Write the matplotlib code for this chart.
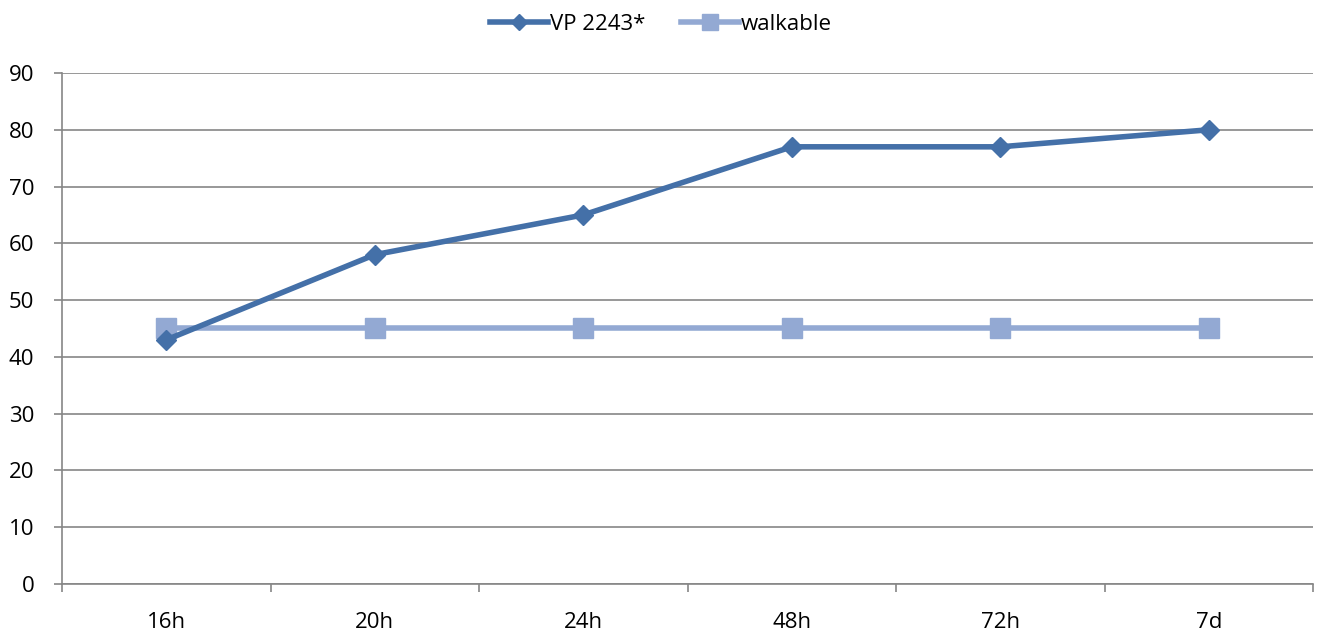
import numpy as np
import matplotlib
matplotlib.use('Agg')
import matplotlib.pyplot as plt

categories = ['16h', '20h', '24h', '48h', '72h', '7d']
vp_2243 = [43, 58, 65, 77, 77, 80]
walkable = [45, 45, 45, 45, 45, 45]

plt.rcParams['font.family'] = ['Open Sans', 'DejaVu Sans']

fig = plt.figure(figsize=(13.22, 6.33), dpi=100)
ax = fig.add_axes([62 / 1322, 49 / 633, (1313 - 62) / 1322, (584 - 73) / 633])

x = np.arange(len(categories))
ax.plot(x, vp_2243, color='#4470A8', lw=4, marker='D', ms=10, label='VP 2243*', zorder=3)
ax.plot(x, walkable, color='#93A9D3', lw=4, marker='s', ms=14, label='walkable', zorder=2)

ax.set_xlim(-0.5, len(categories) - 0.5)
ax.set_ylim(0, 90)
ax.set_yticks(range(0, 91, 10))
ax.yaxis.grid(True, color='#868686', lw=1.2)
ax.set_axisbelow(True)

ax.set_xticks(x)
ax.set_xticklabels(categories)
ax.set_xticks(np.arange(-0.5, len(categories)), minor=True)
ax.tick_params(axis='x', which='major', length=0, pad=20, labelsize=16)
ax.tick_params(axis='x', which='minor', length=6, color='#868686', width=1.2)
ax.tick_params(axis='y', length=6, color='#868686', width=1.2, labelsize=16, pad=14)

for s in ['top', 'right']:
    ax.spines[s].set_visible(False)
for s in ['left', 'bottom']:
    ax.spines[s].set_color('#868686')
    ax.spines[s].set_linewidth(1.2)

fig.legend(loc='upper center', bbox_to_anchor=(0.5, 1.01), ncol=2, frameon=False,
           fontsize=16, handlelength=2.6, handletextpad=0.1, columnspacing=1.6,
           markerscale=0.8)

plt.savefig('out.png', dpi=100)
